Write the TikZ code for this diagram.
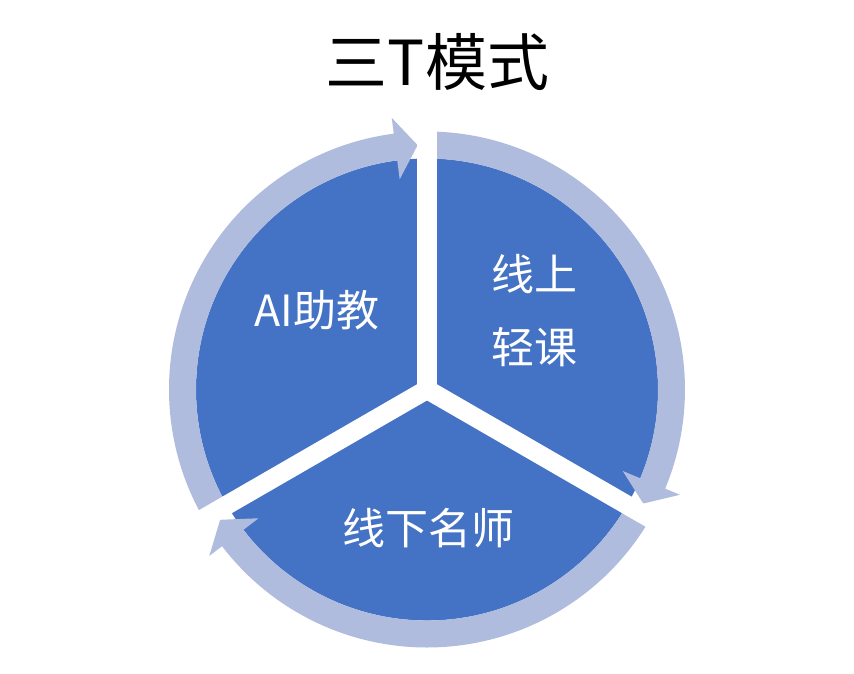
\documentclass[tikz,border=0pt]{standalone}
\usepackage{fontspec}
\newfontfamily\cjk{Noto Sans CJK SC}
\definecolor{pieblue}{RGB}{68,114,196}
\definecolor{ringblue}{RGB}{176,188,222}

\begin{document}
\begin{tikzpicture}[x=1pt, y=1pt,
  sector/.style={fill=pieblue},
  ring/.style={fill=ringblue},
  gap/.style={draw=white, line width=19pt},
  seglabel/.style={text=white, font=\cjk\fontsize{43}{50}\selectfont, anchor=base, inner sep=0pt}]
\useasboundingbox (-427,-283.5) rectangle (427,389.5);
% title
\node[font=\cjk\fontsize{62}{70}\selectfont, anchor=base, inner sep=0pt] (title) at (10.5,304) {三T模式};
% sectors
\fill[sector] (0,0) -- (90:231) arc[start angle=90, end angle=210, radius=231] -- cycle;
\fill[sector] (0,0) -- (-30:231) arc[start angle=-30, end angle=90, radius=231] -- cycle;
\fill[sector] (0,0) -- (210:231) arc[start angle=210, end angle=330, radius=231] -- cycle;
% arrows round the ring, clockwise
\fill[ring] (210:258) arc[start angle=210, end angle=97.4, radius=258] -- (97.4:274) -- (92.2:244.5) -- (97.4:212) -- (97.4:231) arc[start angle=97.4, end angle=210, radius=231] -- cycle;
\fill[ring] (90:258) arc[start angle=90, end angle=-22.6, radius=258] -- (-22.6:274) -- (-27.8:244.5) -- (-22.6:212) -- (-22.6:231) arc[start angle=-22.6, end angle=90, radius=231] -- cycle;
\fill[ring] (-30:258) arc[start angle=-30, end angle=-142.6, radius=258] -- (-142.6:274) -- (-147.8:244.5) -- (-142.6:212) -- (-142.6:231) arc[start angle=-142.6, end angle=-30, radius=231] -- cycle;
% gaps
\draw[gap] (0,0) -- (90:285);
\draw[gap] (0,0) -- (-30:285);
\draw[gap] (0,0) -- (210:285);
% labels
\node[seglabel] (ai) at (-110,63) {AI助教};
\node[seglabel] (online) at (107,99) {线上};
\node[seglabel] (light) at (107,25.7) {轻课};
\node[seglabel] (offline) at (2,-155.3) {线下名师};
\end{tikzpicture}
\end{document}
